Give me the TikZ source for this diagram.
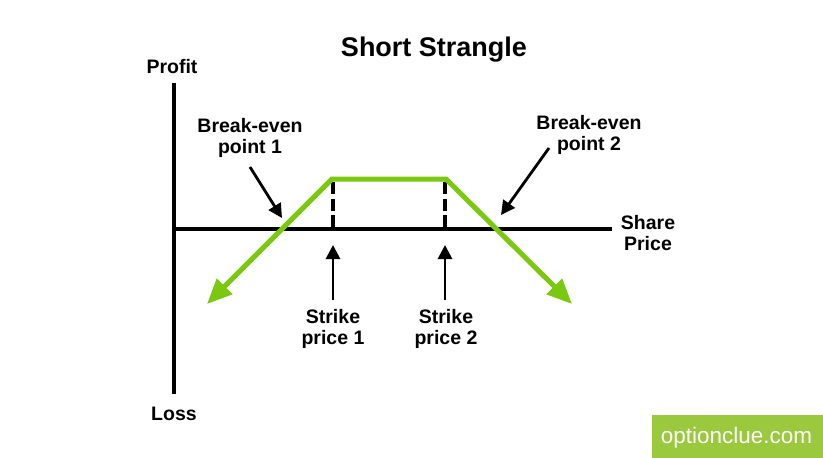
\documentclass[tikz,border=0pt]{standalone}
\usepackage{fontspec}
\setmainfont{Liberation Sans}
\usetikzlibrary{arrows.meta}
\definecolor{payoff}{HTML}{7AC810}
\definecolor{logogreen}{HTML}{9BC93E}
\begin{document}
\begin{tikzpicture}[x=1pt,y=-1pt,
  lbl/.style={font=\fontsize{19.5}{21}\selectfont\bfseries, align=center, inner sep=0pt, anchor=base},
  axisline/.style={line width=4.5pt},
  payline/.style={draw=payoff, line width=5pt, line join=miter,
     {Triangle[length=25pt,width=21pt]}-{Triangle[length=25pt,width=21pt]}},
  strikeline/.style={line width=3.5pt, dash pattern=on 12pt off 4.5pt},
  pointer/.style={line width=2.8pt, -{Triangle[length=14pt,width=14pt]}}]
\useasboundingbox (0,0) rectangle (823,458);
\fill[white] (0,0) rectangle (823,458);
% title
\node[font=\fontsize{27}{30}\selectfont\bfseries, inner sep=0pt, anchor=base] (title) at (434,56) {Short Strangle};
% axes
\coordinate (ytop) at (174,83);
\coordinate (ybot) at (174,394);
\coordinate (xstart) at (172,229);
\coordinate (xend) at (612,229);
\draw[axisline] (ytop) -- (ybot);
\draw[axisline] (xstart) -- (xend);
\node[lbl] (profit) at (172,73) {Profit};
\node[lbl] (loss) at (174,420) {Loss};
\node[lbl] (share) at (648,250) {Share\\Price};
% payoff
\coordinate (gl) at (207,304);
\coordinate (pk1) at (332,179);
\coordinate (pk2) at (446,179);
\coordinate (gr) at (572,304);
\coordinate (d1top) at (333,182);
\coordinate (d1bot) at (333,229);
\coordinate (d2top) at (445,182);
\coordinate (d2bot) at (445,229);
\draw[strikeline] (d1top) -- (d1bot);
\draw[strikeline] (d2top) -- (d2bot);
\draw[payline] (gl) -- (pk1) -- (pk2) -- (gr);
% labels with pointers
\node[lbl] (be1) at (250,153) {Break-even\\point 1};
\node[lbl] (be2) at (589,150) {Break-even\\point 2};
\node[lbl] (sp1) at (333,344) {Strike\\price 1};
\node[lbl] (sp2) at (446,344) {Strike\\price 2};
\coordinate (be1tail) at (250,167);
\coordinate (be1tip) at (282,218);
\coordinate (be2tail) at (549,148);
\coordinate (be2tip) at (501,215);
\coordinate (s1tail) at (333,300);
\coordinate (s1tip) at (333,245);
\coordinate (s2tail) at (445,300);
\coordinate (s2tip) at (445,245);
\draw[pointer] (be1tail) -- (be1tip);
\draw[pointer] (be2tail) -- (be2tip);
\draw[pointer] (s1tail) -- (s1tip);
\draw[pointer] (s2tail) -- (s2tip);
% logo
\fill[logogreen] (652,415) rectangle (823,458);
\node[font=\fontsize{22.5}{25}\selectfont, text=white, inner sep=0pt, anchor=base] (logo) at (736.5,443) {optionclue.com};
\end{tikzpicture}
\end{document}
